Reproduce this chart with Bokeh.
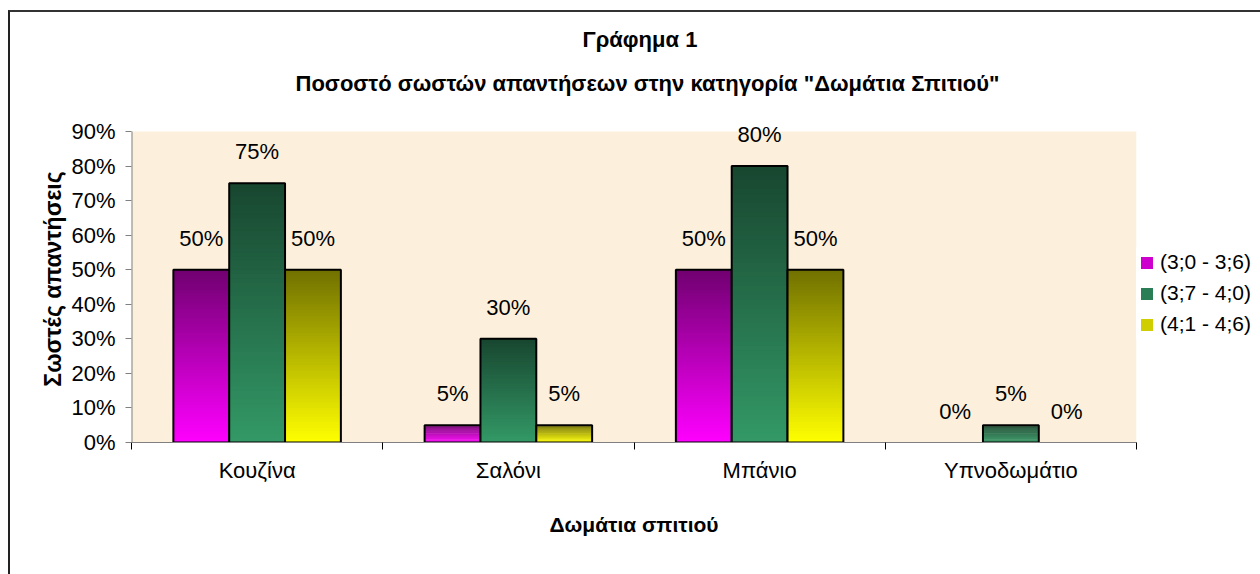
from bokeh.plotting import figure
from bokeh.layouts import column
from bokeh.models import (Range1d, FixedTicker, NumeralTickFormatter, Legend, LegendItem,
                          Title, ColumnDataSource, LabelSet)
from bokeh.core.properties import value
from bokeh.embed import file_html
from bokeh.resources import INLINE

# ---------------- data ----------------
categories = ["Κουζίνα", "Σαλόνι", "Μπάνιο", "Υπνοδωμάτιο"]
series_names = ["(3;0 - 3;6)", "(3;7 - 4;0)", "(4;1 - 4;6)"]
age_30_36 = [0.50, 0.05, 0.50, 0.00]
age_37_40 = [0.75, 0.30, 0.80, 0.05]
age_41_46 = [0.50, 0.05, 0.50, 0.00]
y_ticks = [0.0, 0.1, 0.2, 0.3, 0.4, 0.5, 0.6, 0.7, 0.8, 0.9]

title_1 = "Γράφημα 1"
title_2 = 'Ποσοστό σωστών απαντήσεων στην κατηγορία "Δωμάτια Σπιτιού"'
x_title = "Δωμάτια σπιτιού"
y_title = "Σωστές απαντήσεις"

# ---------------- style ----------------
FONT = "'Liberation Sans', Arial, sans-serif"
bottom_colors = [(255, 0, 255), (51, 153, 102), (255, 255, 0)]
top_colors = [(112, 0, 112), (24, 70, 48), (112, 112, 0)]

series = [age_30_36, age_37_40, age_41_46]
n_cat = len(categories)
bar_w = 1 / 4.5
y_max = y_ticks[-1]
FRAME_H_AXIS = 311          # pixels between 0% and 90%
EXTRA_TOP = 16              # white room above 90% so labels are not clipped
y_end = y_max * (FRAME_H_AXIS + EXTRA_TOP) / FRAME_H_AXIS

p = figure(frame_width=1005, frame_height=FRAME_H_AXIS + EXTRA_TOP,
           output_backend="svg", toolbar_location=None,
           x_range=Range1d(0, n_cat), y_range=Range1d(0, y_end), title=None,
           min_border_left=121, min_border_right=121, min_border_top=103, min_border_bottom=132)
p.background_fill_color = "white"
p.border_fill_color = "white"
p.outline_line_color = None
p.xgrid.visible = False
p.ygrid.visible = False

# tan plot-area background (0% .. 90%)
p.quad(left=[0], right=[n_cat], bottom=[0], top=[y_max], fill_color="#fcf0dc", line_color=None)
# y axis line only up to 90%
p.segment(x0=[0], y0=[0], x1=[0], y1=[y_max], line_color="#808080", line_width=2)


def hexc(c):
    return "#%02x%02x%02x" % tuple(int(round(v)) for v in c)


N = 60
legend_items = []
for si, vals in enumerate(series):
    offset = (si - 1) * bar_w
    L, R, T, B, C = [], [], [], [], []
    oL, oR, oT = [], [], []
    for ci, v in enumerate(vals):
        if v <= 0:
            continue
        cx = ci + 0.5 + offset
        left, right = cx - bar_w / 2, cx + bar_w / 2
        for k in range(N):
            f = (k + 0.5) / N
            col = [bottom_colors[si][j] + (top_colors[si][j] - bottom_colors[si][j]) * f for j in range(3)]
            L.append(left)
            R.append(right)
            B.append(v * k / N)
            T.append(min(v, v * (k + 1.8) / N))
            C.append(hexc(col))
        oL.append(left)
        oR.append(right)
        oT.append(v)
    r_fill = p.quad(left=L, right=R, top=T, bottom=B, fill_color=C, line_color=None)
    r_line = p.quad(left=oL, right=oR, top=oT, bottom=[0] * len(oT), fill_alpha=0,
                    line_color="black", line_width=2)
    # value labels
    src = ColumnDataSource(dict(
        x=[ci + 0.5 + offset for ci in range(n_cat)],
        y=vals,
        t=["%d%%" % round(v * 100) for v in vals]))
    p.add_layout(LabelSet(x="x", y="y", text="t", source=src, text_align="center",
                          text_baseline="alphabetic", y_offset=24,
                          text_font=value(FONT), text_font_size="22px", text_color="black"))
    legend_items.append(LegendItem(label=series_names[si], renderers=[r_fill, r_line], index=20))

# axes
p.xaxis.ticker = FixedTicker(ticks=[i + 0.5 for i in range(n_cat)],
                             minor_ticks=list(range(n_cat + 1)))
p.xaxis.major_label_overrides = {i + 0.5: c for i, c in enumerate(categories)}
p.xaxis.major_tick_out = 0
p.xaxis.major_tick_in = 0
p.xaxis.minor_tick_out = 7
p.xaxis.minor_tick_in = 0
p.xaxis.minor_tick_line_color = "black"
p.xaxis.axis_line_color = "#808080"
p.xaxis.major_label_standoff = 8
p.xaxis.axis_label = x_title
p.xaxis.axis_label_standoff = 27

p.yaxis.ticker = FixedTicker(ticks=y_ticks, minor_ticks=[])
p.yaxis.formatter = NumeralTickFormatter(format="0%")
p.yaxis.major_tick_out = 6
p.yaxis.major_tick_in = 0
p.yaxis.major_tick_line_color = "#808080"
p.yaxis.axis_line_color = None
p.yaxis.major_label_standoff = 10
p.yaxis.axis_label = y_title
p.yaxis.axis_label_standoff = 2

for ax in (p.xaxis[0], p.yaxis[0]):
    ax.major_label_text_font = FONT
    ax.major_label_text_font_size = "22px"
    ax.major_label_text_color = "black"
    ax.axis_label_text_font = FONT
    ax.axis_label_text_font_style = "bold"
    ax.axis_label_text_color = "black"
p.xaxis.axis_label_text_font_size = "21px"
p.yaxis.axis_label_text_font_size = "23px"

# titles
p.add_layout(Title(text=title_2, align="left", text_font=FONT, text_font_style="bold",
                   text_font_size="22px", text_color="black", standoff=40, offset=164), "above")
p.add_layout(Title(text=title_1, align="left", text_font=FONT, text_font_style="bold",
                   text_font_size="22px", text_color="black", standoff=-6, offset=451), "above")

# legend
legend = Legend(items=legend_items, location=(0, 103), margin=0, padding=3,
                spacing=7, glyph_width=15, glyph_height=15, label_standoff=6,
                label_text_font=FONT, label_text_font_size="21px", label_text_color="black",
                background_fill_color="white", background_fill_alpha=1,
                border_line_alpha=0)
p.add_layout(legend, "right")

page = column(p, styles={"margin-left": "8px", "margin-top": "10px",
                         "border-top": "2px solid #333333", "border-left": "2px solid #222222",
                         "border-right": "2px solid #333333"})

open("out.html", "w").write(file_html(page, INLINE))
